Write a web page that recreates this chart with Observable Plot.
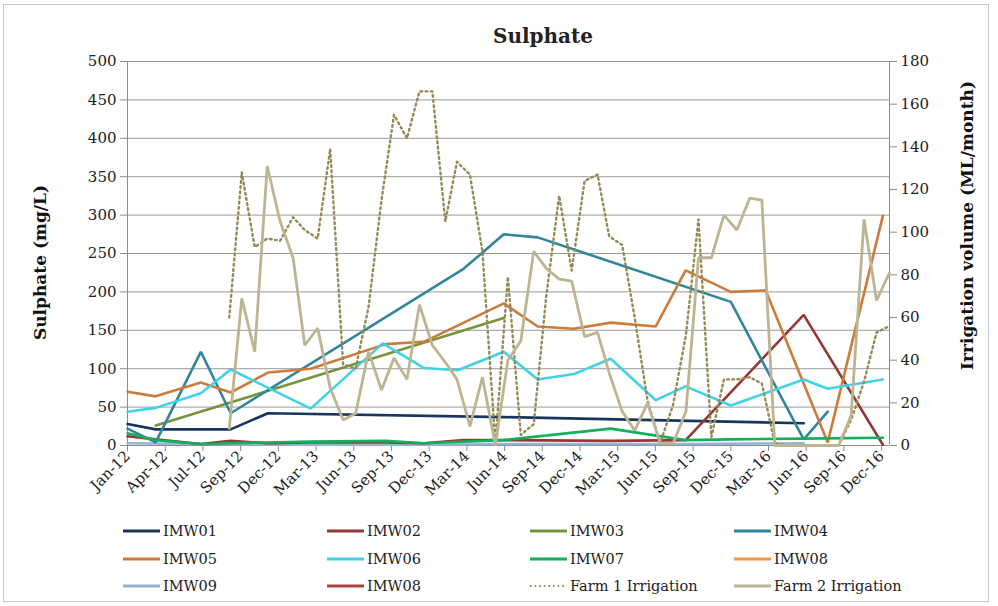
<!DOCTYPE html>
<html>
<head>
<meta charset="utf-8">
<script src="https://cdn.jsdelivr.net/npm/d3@7"></script>
<script src="https://cdn.jsdelivr.net/npm/@observablehq/plot@0.6"></script>
<style>
  html, body { margin: 0; padding: 0; background: #fff; }
  #chart { position: relative; width: 998px; height: 606px; font-family: "DejaVu Serif", serif; color: #222; overflow: hidden; }
  #frame { position: absolute; left: 3px; top: 4px; width: 986px; height: 598px; border: 1px solid #c8c8c8; box-sizing: border-box; }
  #title { position: absolute; left: 443px; width: 200px; top: 24px; text-align: center; font-weight: bold; font-size: 20px; }
  .layer { position: absolute; left: 0; top: 0; }
  .leg { position: absolute; display: flex; align-items: center; font-size: 14.5px; white-space: nowrap; }
  .leg svg { margin-right: 3px; }
</style>
</head>
<body>
<div id="chart">
  <div id="frame"></div>
  <div id="title">Sulphate</div>
</div>
<script>
// ---------- data ----------
const xTickDates = ["2012-01-01","2012-04-01","2012-07-01","2012-09-30","2012-12-30","2013-03-31","2013-06-30","2013-09-29","2013-12-29","2014-03-30","2014-06-29","2014-09-28","2014-12-28","2015-03-29","2015-06-28","2015-09-27","2015-12-27","2016-03-27","2016-06-26","2016-09-25","2016-12-25"];
const leftTicks = [0,50,100,150,200,250,300,350,400,450,500];
const rightTicks = [0,20,40,60,80,100,120,140,160,180];

const imw01Dates = ["2012-01-01","2012-03-09","2012-09-06","2012-12-05","2014-06-27","2016-06-20"];
const imw01 = [28,21,21,42,37,29];

const imw02Dates = ["2012-01-01","2012-03-09","2012-06-26","2012-09-06","2012-12-05","2013-03-18","2013-09-15","2013-12-16","2014-03-22","2014-06-27","2015-03-12","2015-09-09","2016-06-20","2016-12-28"];
const imw02 = [12,8,2,6,3,4,4,3,7,7,6,7,170,1];

const imw03Dates = ["2012-03-09","2014-06-27"];
const imw03 = [26,166];

const imw04Dates = ["2012-01-01","2012-03-09","2012-06-26","2012-09-06","2014-03-22","2014-06-27","2014-09-17","2015-12-27","2016-06-20","2016-08-17"];
const imw04 = [22,4,122,42,230,275,271,187,8,44];

const imw05Dates = ["2012-01-01","2012-03-09","2012-06-26","2012-09-06","2012-12-05","2013-03-18","2013-09-15","2013-12-16","2014-06-27","2014-09-17","2014-12-13","2015-03-12","2015-06-29","2015-09-09","2015-12-27","2016-03-20","2016-08-17","2016-12-28"];
const imw05 = [70,64,82,69,95,100,132,135,185,155,152,160,155,228,200,202,4,299];

const imw06Dates = ["2012-01-01","2012-03-09","2012-06-26","2012-09-06","2013-03-18","2013-09-08","2013-12-16","2014-03-08","2014-06-27","2014-09-17","2014-12-13","2015-03-12","2015-06-29","2015-09-09","2015-12-27","2016-06-20","2016-08-17","2016-12-28"];
const imw06 = [44,49,68,99,48,133,101,98,122,86,93,113,59,77,52,86,74,86];

const imw07Dates = ["2012-01-01","2012-03-09","2012-06-26","2012-09-06","2012-12-05","2013-03-18","2013-09-15","2013-12-16","2014-06-27","2015-03-12","2015-09-09","2015-12-27","2016-06-20","2016-12-28"];
const imw07 = [16,7,2,3,4,5,6,3,7,22,7,8,9,10];

const imw08oDates = [];
const imw08o = [];

const imw09Dates = ["2012-01-01","2012-06-26","2013-03-18","2013-12-16","2014-06-27","2015-03-12","2015-09-09","2016-06-20"];
const imw09 = [3,2,1,1,2,2,2,3];

const imw08rDates = [];
const imw08r = [];

const farmMonths = ["2012-08","2012-09","2012-10","2012-11","2012-12","2013-01","2013-02","2013-03","2013-04","2013-05","2013-06","2013-07","2013-08","2013-09","2013-10","2013-11","2013-12","2014-01","2014-02","2014-03","2014-04","2014-05","2014-06","2014-07","2014-08","2014-09","2014-10","2014-11","2014-12","2015-01","2015-02","2015-03","2015-04","2015-05","2015-06","2015-07","2015-08","2015-09","2015-10","2015-11","2015-12","2016-01","2016-02","2016-03","2016-04","2016-05","2016-06","2016-07","2016-08","2016-09","2016-10","2016-11","2016-12"];
const farm1 = [60,128,93,97,96,107,101,97,139,38,36,65,115,155,144,166,166,105,133,127,91,1,79,5,10,70,117,82,124,127,98,94,60,21,1,19,52,106,4,31,31,32,29,1,0,0,0,0,0,12,30,53,56];
const farm2 = [8,69,44,131,105,88,47,55,27,12,15,44,26,41,31,66,47,39,31,9,32,0,40,49,91,83,78,77,51,53,34,16,7,20,1,1,16,88,88,108,101,116,115,0,0,0,0,0,0,14,106,68,81];

const seriesNames = ["IMW01","IMW02","IMW03","IMW04","IMW05","IMW06","IMW07","IMW08","IMW09","IMW08","Farm 1 Irrigation","Farm 2 Irrigation"];
const seriesColors = ["#17365d","#953735","#77933c","#31859c","#cd7b3a","#40d2e6","#14ae5c","#f79646","#95b3d7","#a9443f","#948a54","#bdb592"];

// ---------- build ----------
const parse = d3.utcParse("%Y-%m-%d");
const monthEnd = m => d3.utcDay.offset(d3.utcMonth.offset(d3.utcParse("%Y-%m")(m), 1), -1);
const zipWell = (dates, vals, name) => dates.map((d, i) => ({date: parse(d), value: vals[i], name}));

const wells = [
  zipWell(imw01Dates, imw01, "IMW01"),
  zipWell(imw02Dates, imw02, "IMW02"),
  zipWell(imw03Dates, imw03, "IMW03"),
  zipWell(imw04Dates, imw04, "IMW04"),
  zipWell(imw05Dates, imw05, "IMW05"),
  zipWell(imw06Dates, imw06, "IMW06"),
  zipWell(imw07Dates, imw07, "IMW07"),
  zipWell(imw08oDates, imw08o, "IMW08"),
  zipWell(imw09Dates, imw09, "IMW09"),
  zipWell(imw08rDates, imw08r, "IMW08b")
];
const farm1Data = farmMonths.map((m, i) => ({date: monthEnd(m), value: farm1[i]}));
const farm2Data = farmMonths.map((m, i) => ({date: monthEnd(m), value: farm2[i]}));

const W = 998, H = 510;
const common = {
  width: W, height: H,
  marginLeft: 127, marginRight: 109, marginTop: 61, marginBottom: 65,
  style: {fontFamily: "DejaVu Serif, serif", fontSize: "15px", color: "#222", background: "transparent", overflow: "visible"}
};
const axisGray = "#8c8c8c";
const xDomain = [parse("2012-01-01"), parse("2017-01-13")];

const wellMarks = [];
const drawOrder = [8, 0, 1, 2, 3, 4, 5, 6, 7, 9];
for (const k of drawOrder) {
  if (wells[k].length) wellMarks.push(Plot.line(wells[k], {x: "date", y: "value", stroke: seriesColors[k], strokeWidth: 2.6, strokeLinejoin: "miter"}));
}

const wellPlot = Plot.plot({
  ...common,
  x: {type: "utc", domain: xDomain},
  y: {domain: [0, 500]},
  marks: [
    Plot.gridY(leftTicks, {stroke: "#9a9a9a", strokeOpacity: 1, strokeWidth: 1}),
    Plot.axisY(leftTicks, {tickSize: 7, tickPadding: 4, stroke: axisGray, fill: "#222", label: null}),
    Plot.axisX(xTickDates.map(parse), {tickRotate: -45, tickFormat: d3.utcFormat("%b-%y"), tickSize: 6, tickPadding: 2, stroke: axisGray, fill: "#222", label: null}),
    Plot.ruleX([xDomain[0]], {stroke: axisGray}),
    Plot.ruleY([0], {stroke: axisGray}),
    ...wellMarks,
    Plot.text(["Sulphate (mg/L)"], {frameAnchor: "left", textAnchor: "middle", rotate: -90, dx: -87, dy: 9, fontWeight: "bold", fontSize: 17, fill: "#111"})
  ]
});

const farmDomain = [parse("2011-12-31"), parse("2016-12-31")];
const farmPlot = Plot.plot({
  ...common,
  x: {type: "utc", domain: farmDomain, axis: null},
  y: {domain: [0, 180]},
  marks: [
    Plot.axisY(rightTicks, {anchor: "right", tickSize: 7, tickPadding: 4, stroke: axisGray, fill: "#222", label: null}),
    Plot.ruleX([farmDomain[1]], {stroke: axisGray}),
    Plot.line(farm1Data, {x: "date", y: "value", stroke: seriesColors[10], strokeWidth: 2.4, strokeDasharray: "1.8 3.4"}),
    Plot.line(farm2Data, {x: "date", y: "value", stroke: seriesColors[11], strokeWidth: 2.8, strokeLinejoin: "miter"}),
    Plot.text(["Irrigation volume (ML/month)"], {frameAnchor: "right", textAnchor: "middle", rotate: -90, dx: 78, dy: -28, fontWeight: "bold", fontSize: 17, fill: "#111"})
  ]
});

const chart = document.getElementById("chart");
wellPlot.classList.add("layer");
farmPlot.classList.add("layer");
chart.appendChild(wellPlot);
chart.appendChild(farmPlot);

// ---------- legend ----------
const legCols = [123, 327, 530, 734];
const legRows = [531, 559, 586];
seriesNames.forEach((name, i) => {
  const r = Math.floor(i / 4), c = i % 4;
  const div = document.createElement("div");
  div.className = "leg";
  div.style.left = legCols[c] + "px";
  div.style.top = (legRows[r] - 10) + "px";
  div.style.height = "20px";
  const dash = i === 10 ? ' stroke-dasharray="1.6 3"' : '';
  div.innerHTML = `<svg width="37" height="20"><line x1="0" x2="37" y1="10" y2="10" stroke="${seriesColors[i]}" stroke-width="${i === 10 ? 2 : 3}"${dash}/></svg><span>${name}</span>`;
  chart.appendChild(div);
});
</script>
</body>
</html>
